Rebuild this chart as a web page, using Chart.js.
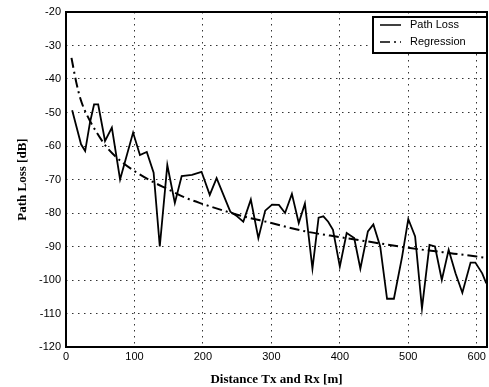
<!DOCTYPE html>
<html>
<head>
<meta charset="utf-8">
<script src="https://cdn.jsdelivr.net/npm/chart.js@4"></script>
<style>
  body { margin: 0; background: #fff; }
  #wrap { width: 489px; height: 387px; }
</style>
</head>
<body>
<div id="wrap"><canvas id="myChart"></canvas></div>
<script>
// measured path loss (distance in m, loss in dB)
var pathDist = [9, 22, 28, 35, 41, 47, 57, 67, 79, 98, 108, 118, 128, 137, 148, 159, 169, 184, 198, 210,
  220, 240, 250, 259, 270, 281, 291, 301, 311, 320, 330, 340, 349, 360, 369, 376, 383, 390, 400, 410,
  421, 430, 441, 449, 459, 469, 479, 491, 500, 510, 520, 531, 539, 549, 559, 569, 579, 591, 598, 608, 614];
var pathLoss = [-49.3, -59.5, -61.5, -53, -47.6, -47.6, -58.5, -54.5, -70, -56, -62.7, -61.8, -68, -90, -65.7, -77, -69, -68.6, -67.7, -74.6,
  -69.6, -79.6, -81, -82.6, -76, -87.5, -79.3, -77.5, -77.6, -80, -74.3, -83, -77.2, -96.6, -81.4, -81, -82.6, -85, -96, -86,
  -87.5, -96.6, -85.5, -83.4, -90, -105.6, -105.6, -93, -81.8, -87, -108.5, -89.5, -90, -100, -91, -98, -103.8, -94.8, -94.8, -98, -101];

// regression curve
var regDist = [8, 15, 22, 32, 45, 60, 80, 100, 125, 150, 175, 200, 250, 300, 350, 400, 450, 500, 550, 600, 615];
var regLoss = [-33.7, -41, -46.5, -51.3, -56, -60.5, -64.5, -67.5, -70.5, -73, -75.5, -77.3, -80.5, -83, -85.5, -87.2, -88.8, -90.4, -91.7, -93, -93.4];

var xTicks = [0, 100, 200, 300, 400, 500, 600];
var yTicks = [-20, -30, -40, -50, -60, -70, -80, -90, -100, -110, -120];

function toPoints(xs, ys) {
  return xs.map(function (x, i) { return { x: x, y: ys[i] }; });
}

var regDash = [10, 4, 2, 4];

// legend box drawn inside the plot, top right
var boxLegend = {
  id: 'boxLegend',
  afterDraw: function (chart) {
    var c = chart.ctx;
    var a = chart.chartArea;
    // frame round the plot
    c.save();
    c.strokeStyle = '#000';
    c.lineWidth = 2;
    c.strokeRect(a.left, a.top, a.right - a.left, a.bottom - a.top);

    var x0 = 373, y0 = 17, w = a.right - x0, h = 36;
    c.fillStyle = '#fff';
    c.fillRect(x0, y0, w, h);
    c.lineWidth = 2;
    c.strokeRect(x0, y0, w, h);
    c.font = '11px "Liberation Sans", Arial, sans-serif';
    c.textBaseline = 'middle';
    chart.data.datasets.forEach(function (ds, i) {
      var yy = y0 + 8 + i * 17;
      c.beginPath();
      c.lineWidth = 1.5;
      c.setLineDash(ds.borderDash || []);
      c.moveTo(380, yy);
      c.lineTo(401, yy);
      c.stroke();
      c.setLineDash([]);
      c.fillStyle = '#000';
      c.fillText(ds.label, 410, yy);
    });
    c.restore();
  }
};

var ctx = document.getElementById('myChart').getContext('2d');
var myChart = new Chart(ctx, {
  type: 'line',
  data: {
    datasets: [
      {
        label: 'Path Loss',
        data: toPoints(pathDist, pathLoss),
        borderColor: '#000',
        borderWidth: 1.8,
        pointRadius: 0,
        tension: 0
      },
      {
        label: 'Regression',
        data: toPoints(regDist, regLoss),
        borderColor: '#000',
        borderWidth: 2,
        borderDash: regDash,
        pointRadius: 0,
        tension: 0.4,
        cubicInterpolationMode: 'monotone'
      }
    ]
  },
  options: {
    responsive: true,
    maintainAspectRatio: false,
    animation: false,
    layout: { padding: { top: 12, right: 2, left: 0, bottom: 0 } },
    scales: {
      x: {
        type: 'linear',
        min: 0,
        max: 615,
        afterBuildTicks: function (s) {
          s.ticks = xTicks.map(function (v) { return { value: v }; });
        },
        afterFit: function (s) { s.height = 40; },
        ticks: {
          color: '#000',
          padding: 3,
          font: { family: '"Liberation Sans", Arial, sans-serif', size: 11 }
        },
        grid: { color: '#333', lineWidth: 1, drawTicks: false },
        border: { display: false, dash: [1.5, 4.5] },
        title: {
          display: true,
          text: 'Distance Tx and Rx [m]',
          color: '#000',
          padding: { top: 3, bottom: 0 },
          font: { family: '"Liberation Serif", "Times New Roman", serif', size: 13, weight: 'bold' }
        }
      },
      y: {
        min: -120,
        max: -20,
        afterBuildTicks: function (s) {
          s.ticks = yTicks.map(function (v) { return { value: v }; });
        },
        afterFit: function (s) { s.width = 66; },
        ticks: {
          color: '#000',
          padding: 5,
          font: { family: '"Liberation Sans", Arial, sans-serif', size: 11 }
        },
        grid: { color: '#333', lineWidth: 1, drawTicks: false },
        border: { display: false, dash: [1.5, 4.5] },
        title: {
          display: true,
          text: 'Path Loss [dB]',
          color: '#000',
          padding: { top: 15, bottom: 4 },
          font: { family: '"Liberation Serif", "Times New Roman", serif', size: 13, weight: 'bold' }
        }
      }
    },
    plugins: {
      legend: { display: false },
      tooltip: { enabled: false }
    }
  },
  plugins: [boxLegend]
});
</script>
</body>
</html>
